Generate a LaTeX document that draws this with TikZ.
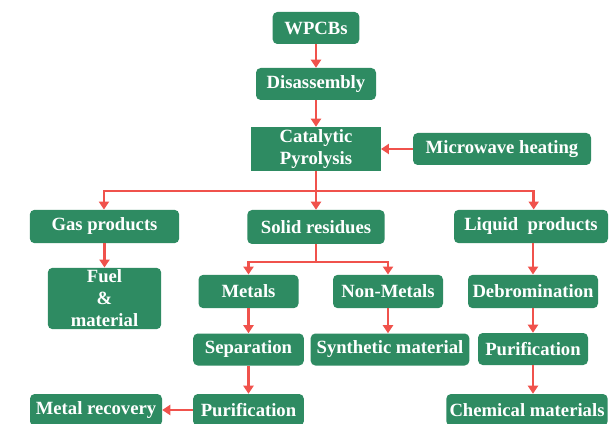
\documentclass[tikz,border=0pt]{standalone}
\usepackage{fontspec}
\setmainfont{Liberation Serif}
\usetikzlibrary{arrows.meta}

\definecolor{boxgreen}{RGB}{46,139,98}
\definecolor{arrowred}{RGB}{240,82,76}

\tikzset{
	stepbox/.style={fill=boxgreen, rounded corners=3.5pt, text=white, inner sep=0pt,
		font=\fontsize{14}{16.5}\selectfont\bfseries, align=center,
		minimum height=24pt},
	flow/.style={draw=arrowred, line width=2.1pt, -{Triangle[length=6pt,width=7.5pt]}},
	link/.style={draw=arrowred, line width=2.1pt},
}

\begin{document}
\begin{tikzpicture}[x=0.75pt,y=0.75pt,yscale=-1,xscale=1]
		\useasboundingbox (0,0) rectangle (611,424);
		
		% Top chain
		\node [stepbox, minimum width=65pt] (wpcbs) at (316,28) {WPCBs};
		\node [stepbox, minimum width=90pt] (disasm) at (316,84) {Disassembly};
		\node [stepbox, rounded corners=0pt, minimum width=97pt, minimum height=33pt] (cat) at (316,149) {Catalytic\\Pyrolysis};
		\node [stepbox, minimum width=133.5pt] (micro) at (502,149) {Microwave heating};
		
		% Products
		\node [stepbox, minimum width=112pt, minimum height=25pt] (gas) at (104.5,226.5) {Gas products};
		\node [stepbox, minimum width=103pt, minimum height=25.5pt] (solid) at (316,227) {Solid residues};
		\node [stepbox, minimum width=115.5pt, minimum height=25pt] (liquid) at (531,226.5) {Liquid\ \ products};
		
		% Gas branch
		\node [stepbox, minimum width=85pt, minimum height=46pt] (fuel) at (104.5,298.5) {Fuel\\\&\\material};
		
		% Solid branch
		\node [stepbox, minimum width=75pt, minimum height=25pt] (metals) at (248.5,291.5) {Metals};
		\node [stepbox, minimum width=82.5pt, minimum height=25pt] (nonmetals) at (388,291.5) {Non-Metals};
		\node [stepbox, minimum width=83pt] (separation) at (248.5,349.5) {Separation};
		\node [stepbox, minimum width=119pt] (synthetic) at (390,349.5) {Synthetic material};
		\node [stepbox, minimum width=83pt] (purifymetal) at (248.5,410) {Purification};
		\node [stepbox, minimum width=99pt] (recovery) at (96,410) {Metal recovery};
		
		% Liquid branch
		\node [stepbox, minimum width=97.5pt, minimum height=25pt] (debrom) at (533,291.5) {Debromination};
		\node [stepbox, minimum width=82.5pt] (purifyliquid) at (533,349) {Purification};
		\node [stepbox, minimum width=121pt] (chemical) at (527,410) {Chemical materials};
		
		\coordinate (split) at (316,191);
		\coordinate (splitsolid) at (316,262);
		
		% Connectors
		\draw [flow] (wpcbs) -- (disasm);
		\draw [flow] (disasm) -- (cat);
		\draw [flow] (micro) -- (cat);
		\draw [link] (cat) -- (split);
		\draw [flow] (split) -| ([xshift=-0.4pt]gas.north);
		\draw [flow] (split) -- (solid);
		\draw [flow] (split) -| ([xshift=2pt]liquid.north);
		\draw [flow] (gas) -- (fuel);
		\draw [link] (solid) -- (splitsolid);
		\draw [flow] (splitsolid) -| (metals.north);
		\draw [flow] (splitsolid) -| (nonmetals.north);
		\draw [flow] (metals) -- (separation);
		\draw [flow] (separation) -- (purifymetal);
		\draw [flow] (purifymetal) -- (recovery);
		\draw [flow] (nonmetals) -- (nonmetals |- synthetic.north);
		\draw [flow] (liquid.south -| debrom) -- (debrom);
		\draw [flow] (debrom) -- (purifyliquid);
		\draw [flow] (purifyliquid) -- (purifyliquid |- chemical.north);
		
\end{tikzpicture}
\end{document}
